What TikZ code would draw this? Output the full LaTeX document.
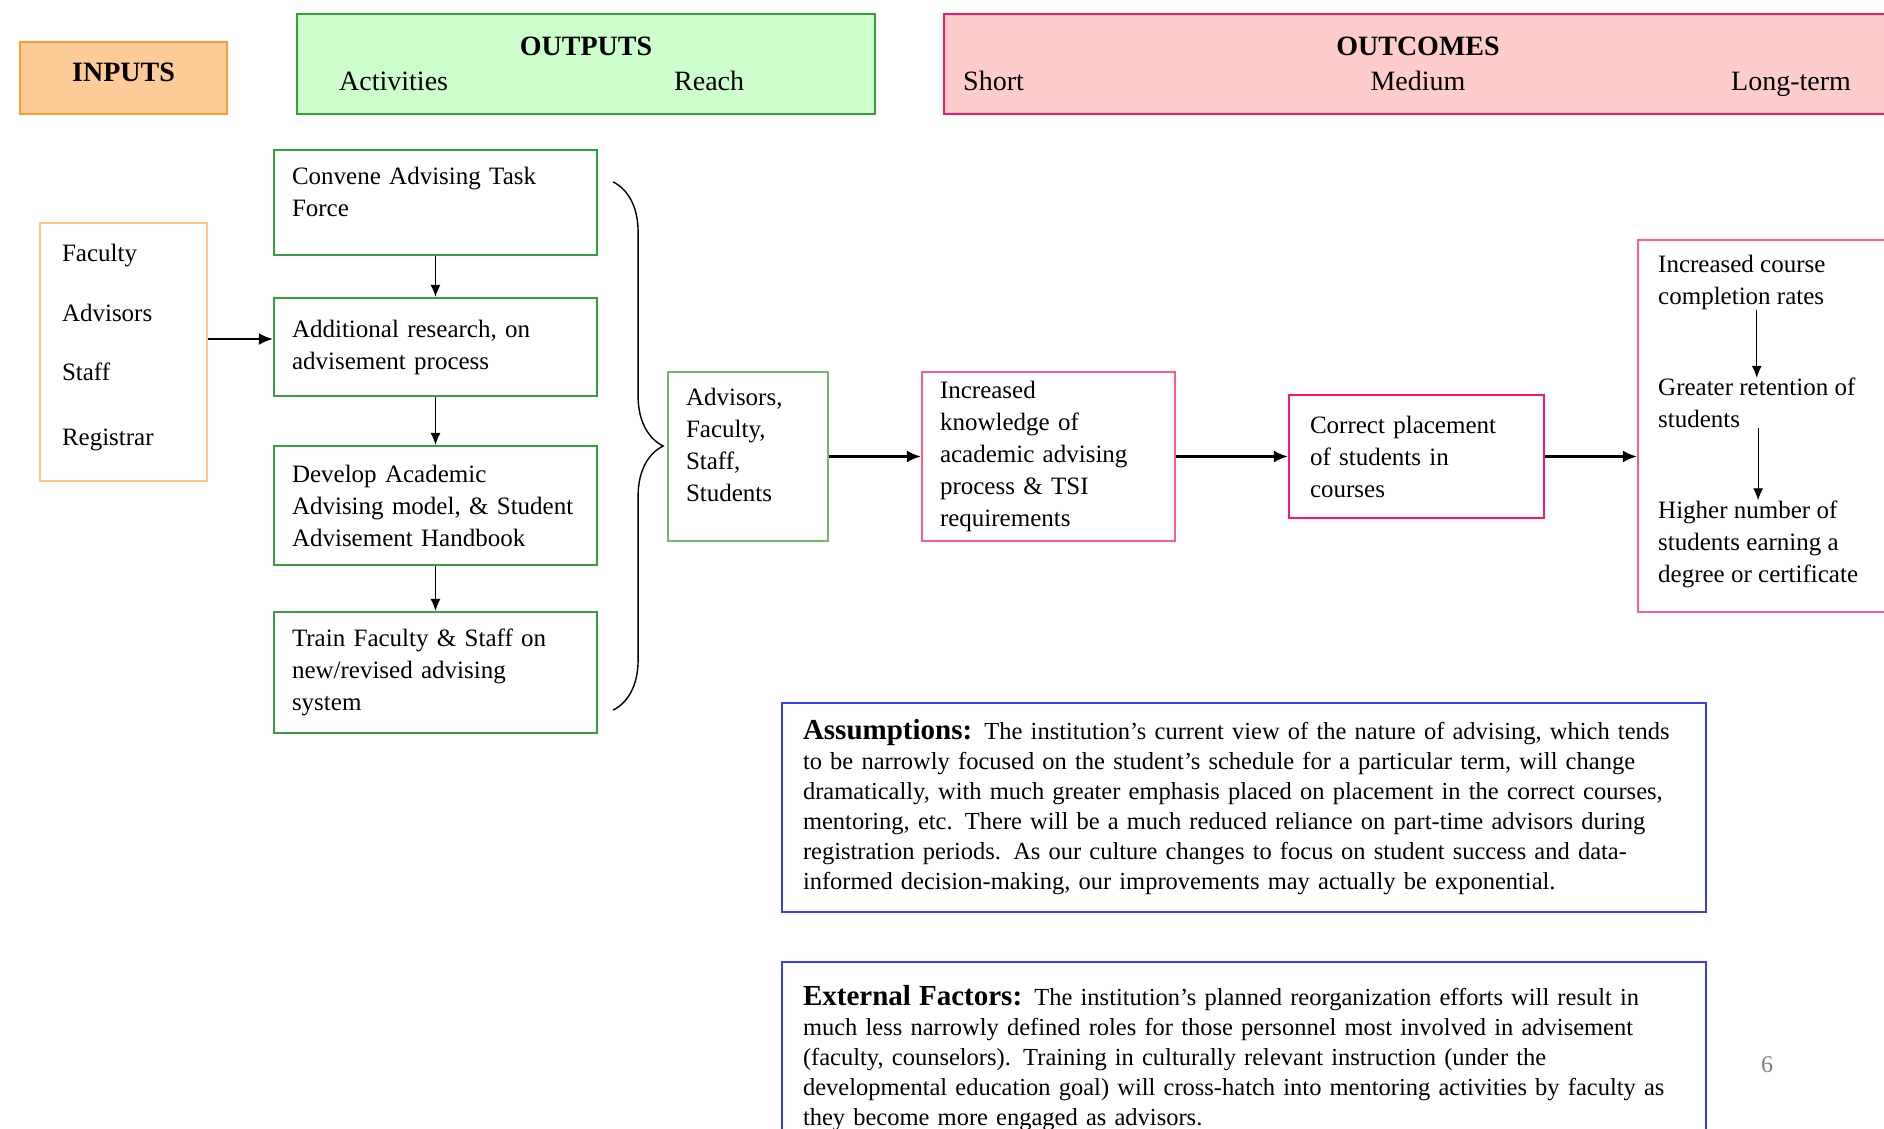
\documentclass[tikz,border=0pt]{standalone}
\usepackage{fontspec}
\setmainfont{Liberation Serif}
\usetikzlibrary{arrows.meta,decorations.pathreplacing}

\definecolor{hdrorange}{RGB}{253,203,152}
\definecolor{edgeorange}{RGB}{247,160,50}
\definecolor{lightorange}{RGB}{255,200,130}
\definecolor{hdrgreen}{RGB}{204,255,204}
\definecolor{edgegreen}{RGB}{51,160,60}
\definecolor{lightgreen}{RGB}{110,185,110}
\definecolor{hdrpink}{RGB}{255,204,204}
\definecolor{edgepink}{RGB}{255,20,110}
\definecolor{lightpink}{RGB}{255,90,150}
\definecolor{edgeblue}{RGB}{60,60,255}

\newcommand{\boxfont}{\fontsize{25}{32}\selectfont}
\newcommand{\notefont}{\fontsize{24.5}{30}\selectfont}
\newcommand{\notehead}[1]{{\fontsize{29}{30}\selectfont\bfseries #1}}
\newcommand{\liftby}[1]{\\[#1]\mbox{}}

\begin{document}
\begin{tikzpicture}[x=1pt,y=-1pt,
    hdr/.style={draw,line width=2.4pt,inner sep=0pt},
    hdrtext/.style={anchor=base,inner sep=0pt,font=\fontsize{28}{32}\selectfont},
    stepbox/.style={draw=edgegreen,line width=2.2pt,inner ysep=0pt,inner xsep=18pt,
        align=left,text width=287pt,minimum height=#1,font=\boxfont},
    outbox/.style={line width=2.2pt,inner ysep=0pt,align=left,font=\boxfont},
    lttext/.style={anchor=west,inner sep=0pt,align=left,font=\boxfont},
    note/.style={draw=edgeblue,line width=2.2pt,inner ysep=0pt,inner xsep=21pt,
        text width=882pt,align=left,minimum height=#1,font=\notefont},
    arr/.style={-{Latex[length=14pt,width=12pt]},line width=2.4pt},
    thinarr/.style={-{Latex[length=12pt,width=10pt]},line width=1.3pt}]
    \path[use as bounding box] (0,0) rectangle (1884,1128);
    \clip (0,0) rectangle (1884,1128);

    \node[hdr,fill=hdrorange,draw=edgeorange,minimum width=207pt,minimum height=72pt,align=center,
        font=\fontsize{28}{32}\selectfont\bfseries] (inputs) at (123.5,78) {INPUTS\liftby{-20pt}};
    \node[hdr,fill=hdrgreen,draw=edgegreen,minimum width=578pt,minimum height=100pt] (outputs) at (586,64) {};
    \node[hdr,fill=hdrpink,draw=edgepink,minimum width=956pt,minimum height=100pt] (outcomes) at (1422,64) {};
    \node[hdrtext,font=\fontsize{28}{32}\selectfont\bfseries] at (586,55) {OUTPUTS};
    \node[hdrtext,anchor=base west] at (339,90) {Activities};
    \node[hdrtext,anchor=base west] at (674,90) {Reach};
    \node[hdrtext,font=\fontsize{28}{32}\selectfont\bfseries] at (1418,55) {OUTCOMES};
    \node[hdrtext,anchor=base west] at (963,90) {Short};
    \node[hdrtext] at (1418,90) {Medium};
    \node[hdrtext,anchor=base west] at (1731,90) {Long-term};

    \node[outbox,draw=lightorange,inner xsep=22pt,text width=123pt,minimum height=258pt] (resources) at (123.5,352)
        {Faculty\\[28pt]Advisors\\[27pt]Staff\\[33pt]Registrar\liftby{-18pt}};

    \node[stepbox=105pt] (convene) at (435.5,202.5) {Convene Advising Task\\Force\liftby{-10pt}};
    \node[stepbox=98pt] (research) at (435.5,347) {Additional research, on\\advisement process};
    \node[stepbox=119pt] (develop) at (435.5,505.5) {Develop Academic\\Advising model, \& Student\\Advisement Handbook};
    \node[stepbox=121pt] (train) at (435.5,672.5) {Train Faculty \& Staff on\\new/revised advising\\system};

    \node[outbox,draw=lightgreen,inner xsep=18pt,text width=124pt,minimum height=169pt] (reach) at (748,456.5)
        {Advisors,\\Faculty,\\Staff,\\Students\liftby{-8pt}};
    \node[outbox,draw=lightpink,inner xsep=18pt,text width=217pt,minimum height=169pt] (knowledge) at (1048.5,456.5)
        {Increased\\knowledge of\\academic advising\\process \& TSI\\requirements};
    \node[outbox,draw=edgepink,inner xsep=21pt,text width=213pt,minimum height=123pt] (placement) at (1416.5,456.5)
        {Correct placement\\of students in\\courses};
    \node[outbox,draw=lightpink,minimum width=262pt,minimum height=372pt] (longterm) at (1769,426) {};
    \node[lttext] (completion) at (1658,282) {Increased course\\completion rates};
    \node[lttext] (retention) at (1658,403) {Greater retention of\\students};
    \node[lttext] (degree) at (1658,544) {Higher number of\\students earning a\\degree or certificate};

    \node[note=209pt] (assume) at (1244,807.5)
        {\notehead{Assumptions:} The institution's current view of the nature of advising, which tends\\
        to be narrowly focused on the student's schedule for a particular term, will change\\
        dramatically, with much greater emphasis placed on placement in the correct courses,\\
        mentoring, etc. There will be a much reduced reliance on part-time advisors during\\
        registration periods. As our culture changes to focus on student success and data-\\
        informed decision-making, our improvements may actually be exponential.};
    \node[note=192pt] (external) at (1244,1058)
        {\notehead{External Factors:} The institution's planned reorganization efforts will result in\\
        much less narrowly defined roles for those personnel most involved in advisement\\
        (faculty, counselors). Training in culturally relevant instruction (under the\\
        developmental education goal) will cross-hatch into mentoring activities by faculty as\\
        they become more engaged as advisors.};
    \node[font=\fontsize{24}{28}\selectfont,text=gray] (pagenum) at (1767,1065) {6};

    \draw[decorate,decoration={brace,amplitude=50pt},line width=1.4pt]
        ([xshift=15pt,yshift=-33pt]convene.north east) -- ([xshift=15pt,yshift=24pt]train.south east);

    \draw[arr] ([yshift=8pt]resources.east |- research.west) -- ([yshift=8pt]research.west);
    \draw[thinarr] (convene) -- (research);
    \draw[thinarr] (research) -- (develop);
    \draw[thinarr] (develop) -- (train);
    \draw[arr] (reach) -- (knowledge);
    \draw[arr] (knowledge) -- (placement);
    \draw[arr] (placement.east) -- (placement.east -| longterm.west);
    \draw[thinarr] (completion.south -| retention.north) -- (retention.north);
    \draw[thinarr] (retention.south -| degree.north) -- (degree.north);
\end{tikzpicture}
\end{document}
